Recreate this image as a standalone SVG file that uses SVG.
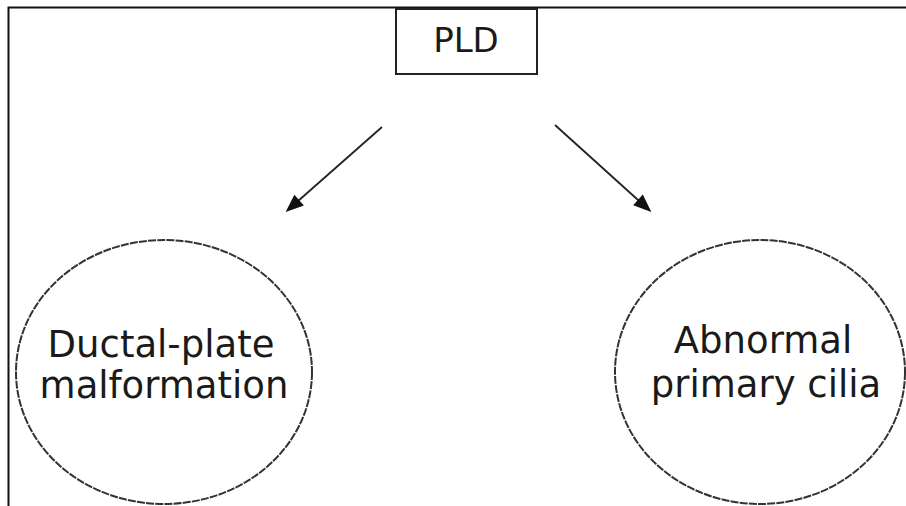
<svg xmlns="http://www.w3.org/2000/svg" width="906" height="506" viewBox="0 0 906 506">
<style>
.t{font-family:"DejaVu Sans","Liberation Sans",sans-serif;fill:#1a1a1a;text-anchor:middle}
.c{fill:none;stroke:#333;stroke-width:2;stroke-dasharray:8 1.2}
.a{stroke:#222;stroke-width:1.8;fill:none}
</style>
<defs>
<marker id="ah" viewBox="0 0 10 10" refX="9" refY="5" markerWidth="9" markerHeight="9" markerUnits="userSpaceOnUse" orient="auto" overflow="visible">
<path d="M-6,-3 L14,5 L-6,13 Z" fill="#111"/>
</marker>
</defs>
<rect width="906" height="506" fill="#fff"/>
<g id="frame"><path d="M8.5,506 V7.5 H906" fill="none" stroke="#111" stroke-width="2"/></g>
<g id="pld">
<rect x="396" y="9" width="141" height="65" fill="#fff" stroke="#222" stroke-width="2"/>
<text class="t" x="466" y="52" font-size="34">PLD</text>
</g>
<g id="ductal">
<ellipse class="c" cx="164" cy="372" rx="148" ry="132"/>
<text class="t" x="161" y="357" font-size="37">Ductal-plate</text>
<text class="t" x="164" y="398" font-size="37">malformation</text>
</g>
<g id="cilia">
<ellipse class="c" cx="760" cy="372" rx="145" ry="132"/>
<text class="t" x="763" y="353" font-size="37">Abnormal</text>
<text class="t" x="766" y="397" font-size="37">primary cilia</text>
</g>
<g id="connectors">
<line class="a" x1="382" y1="127" x2="289" y2="209" marker-end="url(#ah)"/>
<line class="a" x1="555" y1="125" x2="648" y2="209" marker-end="url(#ah)"/>
</g>
</svg>
